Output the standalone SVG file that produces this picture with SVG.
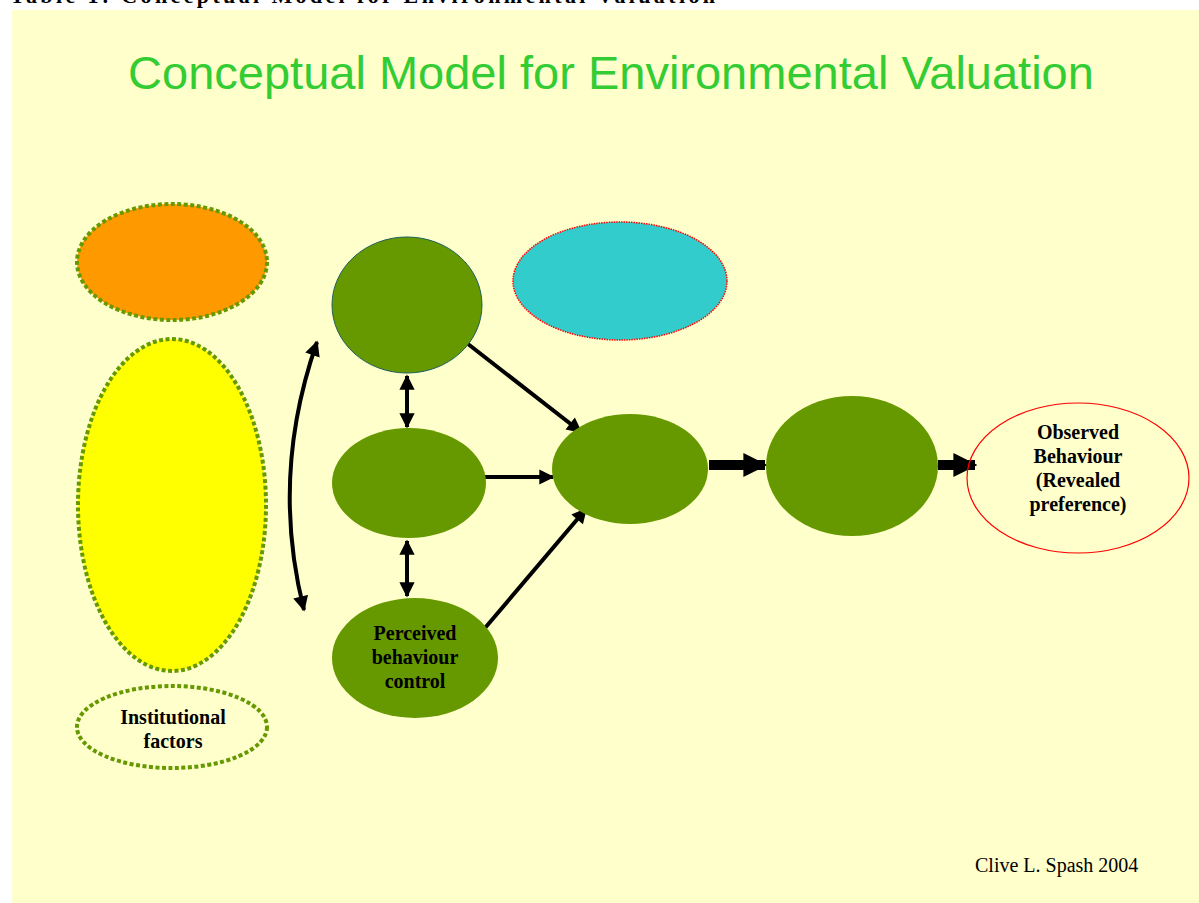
<svg xmlns="http://www.w3.org/2000/svg" width="1199" height="903" viewBox="0 0 1199 903">
<style>
.lbl{font-family:"Liberation Serif","Times New Roman",serif;font-weight:bold;font-size:20px;fill:#000;text-anchor:middle}
.dot{stroke:#669900;stroke-width:4;stroke-dasharray:4 2.5}
.g{fill:#669900}
.ln{stroke:#000;stroke-width:4;fill:none}
.thick{stroke:#000;stroke-width:10;fill:none}
</style>
<defs>
<marker id="ah" viewBox="0 0 10 10" refX="9" refY="5" markerWidth="4" markerHeight="3.8" orient="auto-start-reverse" markerUnits="strokeWidth">
<path d="M0,0 L10,5 L0,10 z" fill="#000"/>
</marker>
<marker id="ahT" viewBox="0 0 10 10" refX="9" refY="5" markerWidth="2.4" markerHeight="2.4" orient="auto" markerUnits="strokeWidth">
<path d="M0,0 L10,5 L0,10 z" fill="#000"/>
</marker>
</defs>
<rect x="0" y="0" width="1199" height="903" fill="#fff"/>
<rect x="12" y="10" width="1187" height="893" fill="#FFFFCC"/>
<text x="10" y="3" font-family="Liberation Serif,serif" font-weight="bold" font-size="22" textLength="705" fill="#000">Table 1: Conceptual Model for Environmental Valuation</text>
<text x="611" y="89" font-family="Liberation Sans,Arial,sans-serif" font-size="47" fill="#33CC33" text-anchor="middle">Conceptual Model for Environmental Valuation</text>

<g id="connectors">
<path class="ln" d="M317,342 Q270,476 304,610" stroke-width="4.5" marker-start="url(#ah)" marker-end="url(#ah)"/>
<line class="ln" x1="407" y1="376" x2="407" y2="427" marker-start="url(#ah)" marker-end="url(#ah)"/>
<line class="ln" x1="407" y1="541" x2="407" y2="596" marker-start="url(#ah)" marker-end="url(#ah)"/>
<line class="ln" x1="468" y1="344" x2="581" y2="432" marker-end="url(#ah)"/>
<line class="ln" x1="483" y1="477" x2="553" y2="477" marker-end="url(#ah)"/>
<line class="ln" x1="485" y1="628" x2="586" y2="509" marker-end="url(#ah)"/>
<line class="thick" x1="709" y1="465" x2="765" y2="465" marker-end="url(#ahT)"/>
<line class="thick" x1="938" y1="465" x2="975" y2="465" marker-end="url(#ahT)"/>
</g>

<g id="orange"><ellipse cx="172" cy="262" rx="95" ry="58" fill="#FF9900" class="dot"/></g>
<g id="yellow"><ellipse cx="172" cy="505" rx="94" ry="166" fill="#FFFF00" class="dot"/></g>
<g id="institutional"><ellipse cx="172" cy="727" rx="95" ry="41" fill="none" class="dot"/>
<text class="lbl" x="173" y="724">Institutional</text><text class="lbl" x="173" y="748">factors</text></g>
<g id="top"><ellipse cx="407" cy="305" rx="75" ry="68" class="g" stroke="#1F5F5F" stroke-width="1"/></g>
<g id="middle"><ellipse cx="409" cy="483" rx="77" ry="55" class="g"/></g>
<g id="perceived"><ellipse cx="415" cy="658" rx="83" ry="60" class="g"/>
<text class="lbl" x="415" y="640">Perceived</text><text class="lbl" x="415" y="664">behaviour</text><text class="lbl" x="415" y="688">control</text></g>
<g id="cyan"><ellipse cx="620" cy="281" rx="107" ry="59" fill="#33CCCC" stroke="#FF0000" stroke-width="1.5" stroke-dasharray="1.5 1"/></g>
<g id="center"><ellipse cx="630" cy="469" rx="78" ry="55" class="g"/></g>
<g id="right"><ellipse cx="852" cy="466" rx="86" ry="70" class="g"/></g>
<g id="observed"><ellipse cx="1078" cy="478" rx="111" ry="75" fill="none" stroke="#FF0000" stroke-width="1.2"/>
<text class="lbl" x="1078" y="439">Observed</text><text class="lbl" x="1078" y="463">Behaviour</text><text class="lbl" x="1078" y="487">(Revealed</text><text class="lbl" x="1078" y="511">preference)</text></g>
<text x="975" y="872" font-family="Liberation Serif,serif" font-size="20" fill="#000">Clive L. Spash 2004</text>
</svg>
